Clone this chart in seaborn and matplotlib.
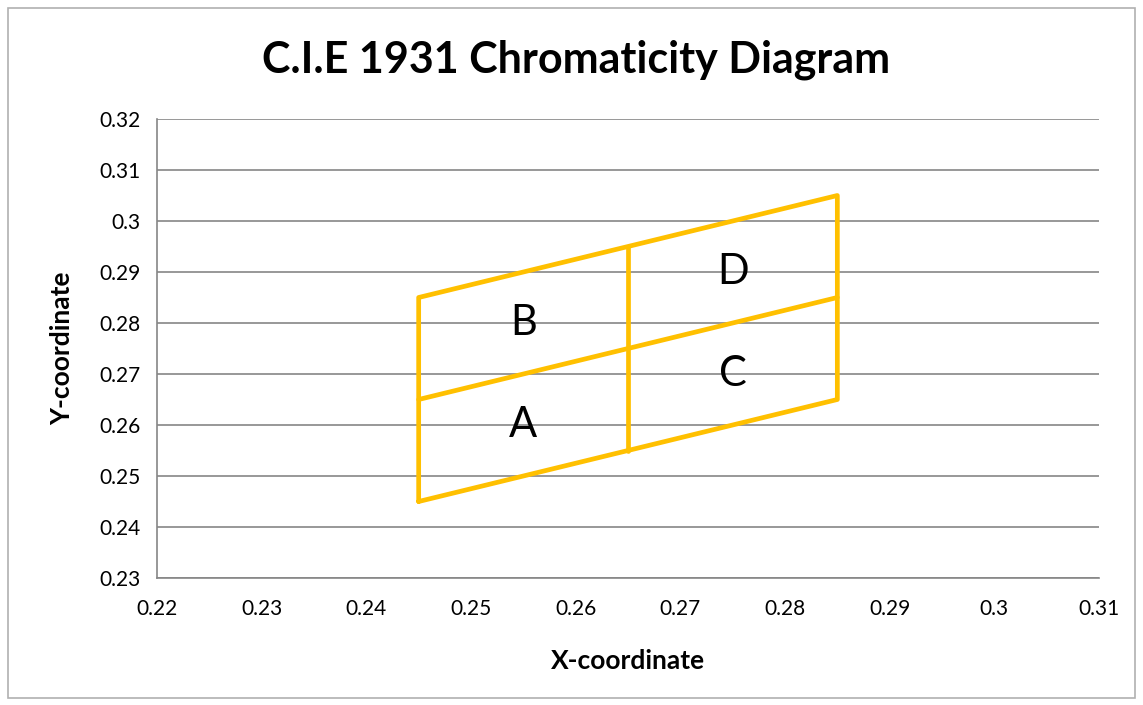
import numpy as np
import pandas as pd
import matplotlib
matplotlib.use('Agg')
import matplotlib.pyplot as plt
import seaborn as sns

# outline segments of the chromaticity bins
seg_ids = ['outer', 'outer', 'outer', 'outer', 'outer', 'mid', 'mid', 'vert', 'vert']
x_vals = [0.245, 0.245, 0.285, 0.285, 0.245, 0.245, 0.285, 0.265, 0.265]
y_vals = [0.245, 0.285, 0.305, 0.265, 0.245, 0.265, 0.285, 0.255, 0.295]

bin_labels = ['A', 'B', 'C', 'D']
label_x = [0.255, 0.255, 0.275, 0.275]
label_y = [0.260, 0.280, 0.270, 0.290]

x_ticks = [0.22, 0.23, 0.24, 0.25, 0.26, 0.27, 0.28, 0.29, 0.30, 0.31]
x_tick_labels = ['0.22', '0.23', '0.24', '0.25', '0.26', '0.27', '0.28', '0.29', '0.3', '0.31']
y_ticks = [0.23, 0.24, 0.25, 0.26, 0.27, 0.28, 0.29, 0.30, 0.31, 0.32]
y_tick_labels = ['0.23', '0.24', '0.25', '0.26', '0.27', '0.28', '0.29', '0.3', '0.31', '0.32']

df = pd.DataFrame({'seg': seg_ids, 'x': x_vals, 'y': y_vals})

sns.set_style('white')
plt.rcParams['font.family'] = ['Lato', 'DejaVu Sans']
plt.rcParams['text.color'] = 'black'
plt.rcParams['xtick.labelcolor'] = 'black'
plt.rcParams['ytick.labelcolor'] = 'black'
plt.rcParams['axes.labelcolor'] = 'black'

gray = '#868686'
gold = '#FFC000'

fig = plt.figure(figsize=(11.43, 7.05), dpi=100)
ax = fig.add_axes([157/1143, 1-578/705, (1099-157)/1143, (578-119)/705])

sns.lineplot(data=df, x='x', y='y', units='seg', estimator=None, sort=False,
             color=gold, linewidth=3.4, ax=ax, legend=False)

for lab, lx, ly in zip(bin_labels, label_x, label_y):
    ax.text(lx, ly, lab, fontsize=30, ha='center', va='center', color='black')

ax.set_xlim(0.22, 0.31)
ax.set_ylim(0.23, 0.32)
ax.set_xticks(x_ticks)
ax.set_xticklabels(x_tick_labels)
ax.set_yticks(y_ticks)
ax.set_yticklabels(y_tick_labels)
ax.yaxis.grid(True, color=gray, linewidth=1.2)
ax.xaxis.grid(False)
ax.set_axisbelow(True)
for side in ['top', 'right']:
    ax.spines[side].set_visible(False)
for side in ['left', 'bottom']:
    ax.spines[side].set_color(gray)
    ax.spines[side].set_linewidth(1.2)
ax.tick_params(axis='both', direction='out', length=7, width=1.2, color=gray,
               labelsize=15)
ax.tick_params(axis='y', pad=5)
ax.tick_params(axis='x', pad=8)
ax.set_xlabel('X-coordinate', fontsize=19, fontweight='bold', labelpad=22)
ax.set_ylabel('Y-coordinate', fontsize=19, fontweight='bold', labelpad=18)

fig.text(576/1143, 1-60/705, 'C.I.E 1931 Chromaticity Diagram', fontsize=31,
         fontweight='bold', ha='center', va='center')

fig.patches.append(plt.Rectangle((8/1143, 1-698/705), 1127/1143, 690/705,
                                 transform=fig.transFigure, fill=False,
                                 edgecolor='#B0B0B0', linewidth=1.2))

fig.savefig('out.png', dpi=100)
